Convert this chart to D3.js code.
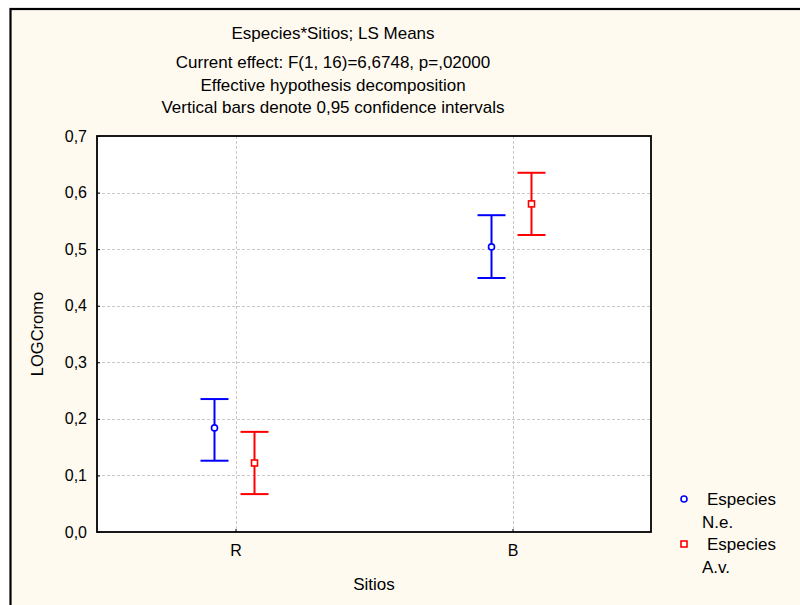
<!DOCTYPE html>
<html>
<head>
<meta charset="utf-8">
<script src="https://cdn.jsdelivr.net/npm/d3@7"></script>
<style>
html,body{margin:0;padding:0;background:#fff;}
svg{display:block;}
text{font-family:"Liberation Sans",Arial,sans-serif;fill:#000;}
</style>
</head>
<body>
<script>
// Data
const sitios = ["R", "B"];
const especies = ["N.e.", "A.v."];
const meanNe = [0.184, 0.504];
const lowNe = [0.126, 0.449];
const highNe = [0.235, 0.560];
const meanAv = [0.122, 0.580];
const lowAv = [0.067, 0.525];
const highAv = [0.177, 0.635];
const yTicks = [0.0, 0.1, 0.2, 0.3, 0.4, 0.5, 0.6, 0.7];
const titleLines = [
  "Especies*Sitios; LS Means",
  "Current effect: F(1, 16)=6,6748, p=,02000",
  "Effective hypothesis decomposition",
  "Vertical bars denote 0,95 confidence intervals"
];

const W = 800, H = 605;
const m = {left: 97, top: 136, right: 651, bottom: 532};

const svg = d3.select("body").append("svg").attr("width", W).attr("height", H);

// outer frame
svg.append("rect").attr("x", 0).attr("y", 0).attr("width", W).attr("height", H).attr("fill", "#fff");
svg.append("rect").attr("x", 10.5).attr("y", 9).attr("width", W + 10).attr("height", H + 10)
  .attr("fill", "#fffaf0").attr("stroke", "#000").attr("stroke-width", 2.2);

const x = d3.scalePoint().domain(sitios).range([m.left, m.right]).padding(0.5);
const y = d3.scaleLinear().domain([0, 0.7]).range([m.bottom, m.top]);

// plot background
svg.append("rect").attr("x", m.left).attr("y", m.top)
  .attr("width", m.right - m.left).attr("height", m.bottom - m.top).attr("fill", "#fff");

// gridlines
const grid = svg.append("g").attr("stroke", "#c8c8c8").attr("stroke-dasharray", "3,2").attr("stroke-width", 1);
yTicks.filter(t => t > 0 && t < 0.7).forEach(t => {
  grid.append("line").attr("x1", m.left).attr("x2", m.right).attr("y1", Math.round(y(t)) + 0.5).attr("y2", Math.round(y(t)) + 0.5);
});
sitios.forEach(s => {
  grid.append("line").attr("x1", Math.round(x(s)) + 0.5).attr("x2", Math.round(x(s)) + 0.5).attr("y1", m.top).attr("y2", m.bottom);
});

// axes
const yAxis = d3.axisLeft(y).tickValues(yTicks).tickSize(-3).tickPadding(10)
  .tickFormat(d => d3.format(".1f")(d).replace(".", ","));
const gy = svg.append("g").attr("transform", `translate(${m.left},0)`).call(yAxis);
gy.select(".domain").remove();
gy.selectAll("line").attr("stroke", "#000");
gy.selectAll("text").attr("font-size", 16).attr("font-family", "Liberation Sans, Arial, sans-serif");

const xAxis = d3.axisBottom(x).tickSize(-3).tickPadding(13);
const gx = svg.append("g").attr("transform", `translate(0,${m.bottom})`).call(xAxis);
gx.select(".domain").remove();
gx.selectAll("line").attr("stroke", "#000");
gx.selectAll("text").attr("font-size", 16).attr("font-family", "Liberation Sans, Arial, sans-serif");

// plot frame
svg.append("rect").attr("x", m.left).attr("y", m.top)
  .attr("width", m.right - m.left).attr("height", m.bottom - m.top)
  .attr("fill", "none").attr("stroke", "#000").attr("stroke-width", 1.8);

// series
const off = 21, cap = 14;
const series = [
  {name: especies[0], mean: meanNe, low: lowNe, high: highNe, color: "#0000ff", dx: -off, shape: "circle"},
  {name: especies[1], mean: meanAv, low: lowAv, high: highAv, color: "#ff0000", dx: off - 2, shape: "square"}
];
series.forEach(s => {
  const g = svg.append("g");
  sitios.forEach((site, i) => {
    const cx = x(site) + s.dx;
    g.append("line").attr("x1", cx).attr("x2", cx).attr("y1", y(s.low[i])).attr("y2", y(s.high[i]))
      .attr("stroke", s.color).attr("stroke-width", 2);
    [s.low[i], s.high[i]].forEach(v => {
      g.append("line").attr("x1", cx - cap).attr("x2", cx + cap).attr("y1", y(v)).attr("y2", y(v))
        .attr("stroke", s.color).attr("stroke-width", 2);
    });
    if (s.shape === "circle") {
      g.append("circle").attr("cx", cx).attr("cy", y(s.mean[i])).attr("r", 3)
        .attr("fill", "#fff").attr("stroke", s.color).attr("stroke-width", 1.6);
    } else {
      g.append("rect").attr("x", cx - 3).attr("y", y(s.mean[i]) - 3).attr("width", 6).attr("height", 6)
        .attr("fill", "#fff").attr("stroke", s.color).attr("stroke-width", 1.6);
    }
  });
});

// titles
const tY = [39, 68, 91, 113];
titleLines.forEach((t, i) => {
  svg.append("text").attr("x", 333).attr("y", tY[i]).attr("text-anchor", "middle")
    .attr("font-size", 17).attr("font-family", "Liberation Sans, Arial, sans-serif")
    .text(t);
});

// axis titles
svg.append("text").attr("x", 374).attr("y", 590).attr("text-anchor", "middle").attr("font-size", 17).text("Sitios");
svg.append("text").attr("transform", `translate(43,${(m.top + m.bottom) / 2}) rotate(-90)`)
  .attr("text-anchor", "middle").attr("font-size", 16.5).text("LOGCromo");

// legend
const leg = svg.append("g");
const legY = [499, 544];
series.forEach((s, i) => {
  if (s.shape === "circle") {
    leg.append("circle").attr("cx", 684).attr("cy", legY[i]).attr("r", 3)
      .attr("fill", "#fff").attr("stroke", s.color).attr("stroke-width", 1.6);
  } else {
    leg.append("rect").attr("x", 681).attr("y", legY[i] - 3).attr("width", 6).attr("height", 6)
      .attr("fill", "#fff").attr("stroke", s.color).attr("stroke-width", 1.6);
  }
  leg.append("text").attr("x", 707).attr("y", legY[i] + 6).attr("font-size", 17).text("Especies");
  leg.append("text").attr("x", 702).attr("y", legY[i] + 29).attr("font-size", 17).text(s.name);
});
</script>
</body>
</html>
